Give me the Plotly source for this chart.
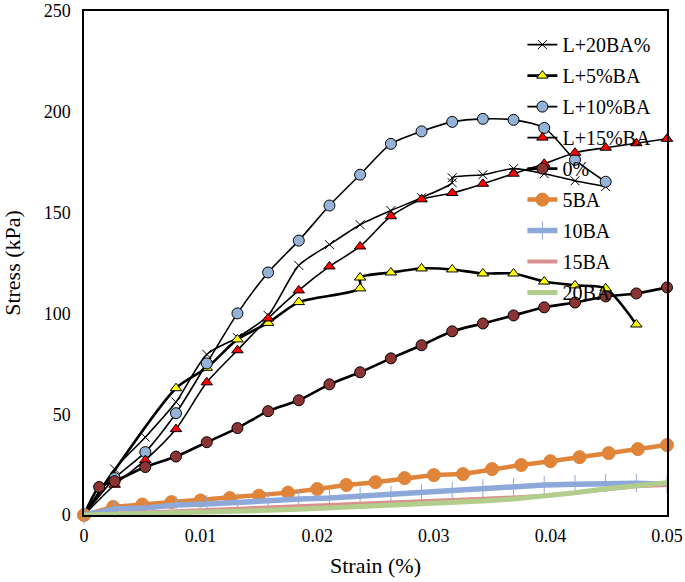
import plotly.graph_objects as go

# strain grids (%)
strain_grid = [0, 0.00263, 0.00526, 0.00789, 0.01053, 0.01316, 0.01579, 0.01842, 0.02105,
               0.02368, 0.02632, 0.02895, 0.03158, 0.03421, 0.03684, 0.03947, 0.04211,
               0.04474, 0.04737, 0.05]
strain_grid_b = [0, 0.0025, 0.005, 0.0075, 0.01, 0.0125, 0.015, 0.0175, 0.02, 0.0225, 0.025,
                 0.0275, 0.03, 0.0325, 0.035, 0.0375, 0.04, 0.0425, 0.045, 0.0475, 0.05]

# L+20BA%
x_20 = [0, 0.00263, 0.00526, 0.00789, 0.01053, 0.01316, 0.01579, 0.01842, 0.02105, 0.02368,
        0.02632, 0.02895, 0.03158, 0.03158, 0.03421, 0.03684, 0.03947, 0.04211, 0.04474]
y_20 = [0, 22.8, 38.6, 56.0, 79.7, 88.0, 99.0, 123.8, 134.1, 144.0, 151.0, 157.4, 164.8, 167.3,
        168.8, 171.8, 169.3, 165.8, 162.9]

# L+5%BA
x_5 = [0, 0.00789, 0.01053, 0.01316, 0.01579, 0.01842, 0.02368, 0.02368, 0.02632, 0.02895,
       0.03158, 0.03421, 0.03684, 0.03947, 0.04211, 0.04474, 0.04737]
y_5 = [0, 62.9, 73.0, 87.1, 95.3, 105.6, 112.4, 117.8, 120.3, 122.3, 121.8, 119.8, 119.8,
       115.8, 113.9, 112.4, 94.5]

# L+10%BA
x_10 = strain_grid[:18]
y_10 = [0, 18.3, 31.2, 50.5, 75.2, 100.0, 120.3, 136.1, 153.5, 168.8, 184.1, 190.3, 195.0,
        196.5, 196.0, 192.0, 176.2, 165.3]

# L+15%BA
x_15 = strain_grid
y_15 = [0, 15.0, 27.2, 42.6, 65.8, 81.7, 97.5, 111.4, 123.3, 133.2, 148.2, 156.6, 159.7,
        164.3, 169.3, 174.2, 179.7, 182.2, 184.4, 186.6]

# 0%
x_0 = [0, 0.0013] + strain_grid[1:]
y_0 = [0, 13.9, 16.8, 23.8, 29.0, 36.1, 43.1, 51.5, 56.9, 64.8, 70.8, 77.7, 84.2, 91.1, 95.0,
       99.0, 103.0, 105.4, 108.4, 109.9, 112.9]

# 5BA
x_5ba = strain_grid_b
y_5ba = [0, 4.0, 5.2, 6.4, 7.2, 8.4, 9.6, 11.1, 12.9, 14.9, 16.3, 18.3, 19.8, 20.3, 22.8, 24.8,
         26.7, 28.7, 30.7, 32.7, 34.7]

# 10BA
x_10ba = strain_grid
y_10ba = [0, 3.0, 3.5, 5.0, 5.4, 6.4, 6.9, 7.9, 8.4, 9.4, 9.9, 10.9, 11.9, 13.4, 13.9, 14.9,
          15.3, 15.8, 15.8, 15.3]

# 15BA
x_15ba = strain_grid
y_15ba = [0, 0.6, 1.2, 1.8, 2.4, 3.0, 3.5, 4.1, 4.6, 5.2, 6.2, 6.8, 7.4, 8.0, 8.7, 9.6, 11.0,
          12.8, 14.3, 14.9]

# 20BA
x_20ba = strain_grid
y_20ba = [0, 0.3, 0.6, 1.0, 1.4, 1.8, 2.3, 2.8, 3.4, 4.2, 5.0, 5.6, 6.3, 7.0, 7.9, 9.2, 11.0,
          13.0, 14.6, 16.0]

FONT = "Liberation Serif"

fig = go.Figure()

def add(name, x, y, lc, lw, sym=None, fill=None, size=9, mline=None, shape="spline"):
    marker = dict(symbol=sym, color=fill, size=size,
                  line=dict(color=mline if mline else "black", width=1)) if sym else None
    fig.add_trace(go.Scatter(
        x=x, y=y, name=name, legendgroup=name, mode="lines+markers" if sym else "lines",
        line=dict(color=lc, width=lw, shape=shape, smoothing=0.7),
        marker=marker, cliponaxis=False))

add("L+20BA%", x_20, y_20, "black", 1.6, "x-thin", "black", 9, mline="black")
add("L+5%BA", x_5, y_5, "black", 2.6, "triangle-up", "#FFFF00", 10)
add("L+10%BA", x_10, y_10, "black", 1.6, "circle", "#95B3D7", 11)
add("L+15%BA", x_15, y_15, "black", 1.6, "triangle-up", "#FF0000", 10)
add("0%", x_0, y_0, "black", 2.6, "circle", "#8B3434", 11)
add("5BA", x_5ba, y_5ba, "#E0843A", 4.5, "circle", "#E0843A", 13, mline="#E0843A", shape="linear")
add("10BA", x_10ba, y_10ba, "#8EA8DA", 5.5, "line-ns", "#8EA8DA", 13, mline="#8EA8DA", shape="linear")
add("15BA", x_15ba, y_15ba, "#D9918F", 4, shape="linear")
add("20BA", x_20ba, y_20ba, "#B3CE8C", 5, shape="linear")

axis_common = dict(showline=True, linecolor="black", linewidth=1.5, mirror=True,
                   showgrid=False, zeroline=False, ticks="", automargin=False,
                   ticklabeloverflow="allow",
                   tickfont=dict(family=FONT, size=18, color="black"))

fig.update_layout(
    width=685, height=582,
    margin=dict(l=84, r=18, t=11, b=67),
    plot_bgcolor="white", paper_bgcolor="white",
    font=dict(family=FONT, color="black"),
    xaxis=dict(range=[0, 0.05], dtick=0.01, tick0=0,
               title=dict(text="Strain (%)", font=dict(family=FONT, size=22), standoff=12),
               ticklabelstandoff=4, **axis_common),
    yaxis=dict(range=[0, 250], dtick=50, tick0=0,
               title=dict(text="Stress (kPa)", font=dict(family=FONT, size=22), standoff=22),
               ticklabelstandoff=8, **axis_common),
    legend=dict(x=0.752, y=0.972, xanchor="left", yanchor="top",
                bgcolor="rgba(0,0,0,0)", borderwidth=0,
                font=dict(family=FONT, size=20, color="black"),
                tracegroupgap=2, itemsizing="trace"),
    showlegend=True,
)

fig.write_html("out.html", config={"displayModeBar": False},
               post_script="document.body.style.margin='0';document.body.style.overflow='hidden';")
